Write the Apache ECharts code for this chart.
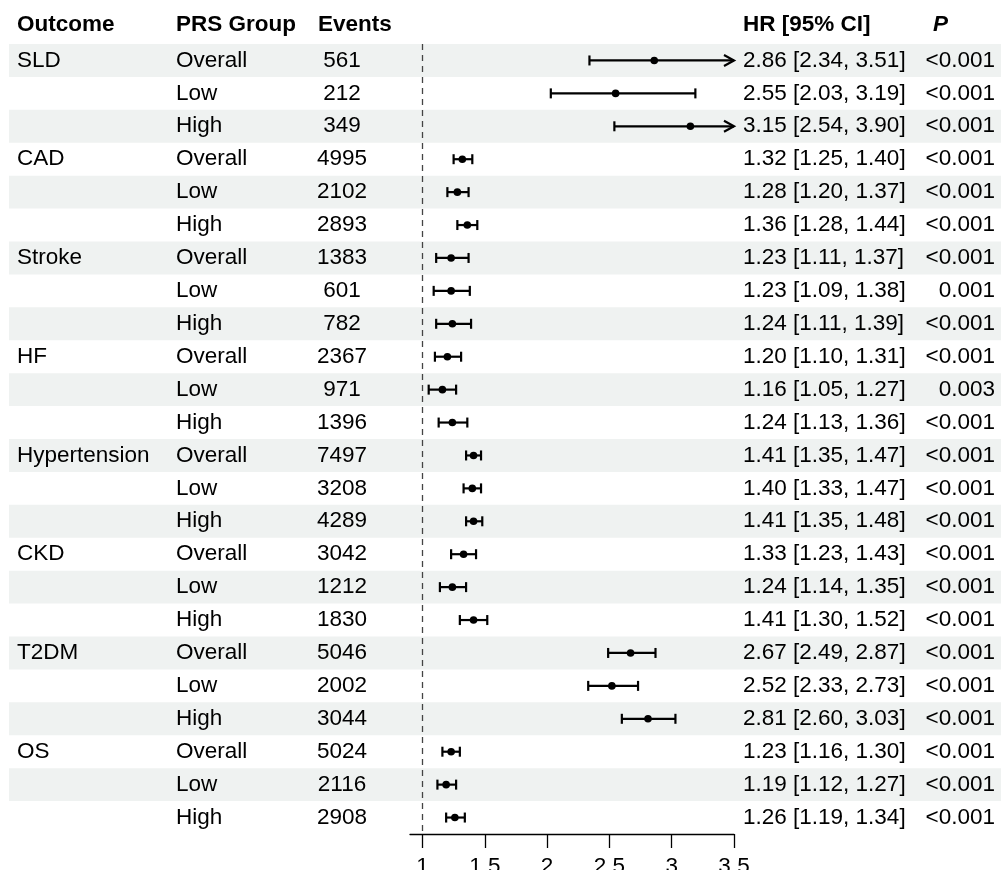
<!DOCTYPE html>
<html>
<head>
<meta charset="utf-8">
<script src="https://cdn.jsdelivr.net/npm/echarts@6/dist/echarts.min.js"></script>
<style>
  html, body { margin: 0; padding: 0; background: #fff; }
  #forest { width: 1001px; height: 870px; }
</style>
</head>
<body>
<div id="forest"></div>
<script>
// data
const outcomes = ['SLD', 'CAD', 'Stroke', 'HF', 'Hypertension', 'CKD', 'T2DM', 'OS']
const groups = ['Overall', 'Low', 'High']
const events = [561, 212, 349, 4995, 2102, 2893, 1383, 601, 782, 2367, 971, 1396,
  7497, 3208, 4289, 3042, 1212, 1830, 5046, 2002, 3044, 5024, 2116, 2908]
const hr = [2.86, 2.55, 3.15, 1.32, 1.28, 1.36, 1.23, 1.23, 1.24, 1.20, 1.16, 1.24,
  1.41, 1.40, 1.41, 1.33, 1.24, 1.41, 2.67, 2.52, 2.81, 1.23, 1.19, 1.26]
const lower = [2.34, 2.03, 2.54, 1.25, 1.20, 1.28, 1.11, 1.09, 1.11, 1.10, 1.05, 1.13,
  1.35, 1.33, 1.35, 1.23, 1.14, 1.30, 2.49, 2.33, 2.60, 1.16, 1.12, 1.19]
const upper = [3.51, 3.19, 3.90, 1.40, 1.37, 1.44, 1.37, 1.38, 1.39, 1.31, 1.27, 1.36,
  1.47, 1.47, 1.48, 1.43, 1.35, 1.52, 2.87, 2.73, 3.03, 1.30, 1.27, 1.34]
const pValues = ['<0.001', '<0.001', '<0.001', '<0.001', '<0.001', '<0.001',
  '<0.001', '0.001', '<0.001', '<0.001', '0.003', '<0.001',
  '<0.001', '<0.001', '<0.001', '<0.001', '<0.001', '<0.001',
  '<0.001', '<0.001', '<0.001', '<0.001', '<0.001', '<0.001']
const xTicks = [1, 1.5, 2, 2.5, 3, 3.5]
const xMin = 0.9, xMax = 3.5

const FONT = '"Liberation Sans", Arial, Helvetica, sans-serif'
const FS = 22.5

const rows = events.map((e, i) => String(i))
const tableData = events.map((e, i) => [xMin, i])
const ciData = events.map((e, i) => [i, lower[i], hr[i], upper[i]])

function txt(x, y, text, align, weight, style) {
  return {
    type: 'text',
    style: {
      x: x, y: y, text: text,
      fill: '#000',
      font: (style || 'normal') + ' ' + (weight || 'normal') + ' ' + FS + 'px ' + FONT,
      textAlign: align || 'left',
      textVerticalAlign: 'middle'
    }
  }
}

const chart = echarts.init(document.getElementById('forest'), null, {renderer: 'canvas'})

let option = {
  animation: false,
  backgroundColor: '#fff',
  grid: {
    left: 410,
    right: 267,
    top: 44,
    bottom: 36,
    outerBoundsMode: 'none'
  },
  xAxis: {
    type: 'value',
    min: xMin,
    max: xMax,
    splitLine: {show: false},
    axisLine: {
      show: true,
      lineStyle: {color: '#000', width: 1.3}
    },
    axisTick: {
      show: true,
      length: 14,
      customValues: xTicks,
      lineStyle: {color: '#000', width: 1.3}
    },
    axisLabel: {
      customValues: xTicks,
      color: '#000',
      fontSize: FS,
      fontFamily: FONT,
      margin: 21,
      formatter: v => String(v)
    }
  },
  yAxis: {
    type: 'category',
    data: rows,
    inverse: true,
    show: false
  },
  graphic: [
    txt(17, 25, 'Outcome', 'left', 'bold'),
    txt(176, 25, 'PRS Group', 'left', 'bold'),
    txt(318, 25, 'Events', 'left', 'bold'),
    txt(743, 25, 'HR [95% CI]', 'left', 'bold'),
    txt(933, 25, 'P', 'left', 'bold', 'italic')
  ],
  series: [
    {
      // stripes + table columns
      name: 'table',
      type: 'custom',
      z: 1,
      silent: true,
      clip: false,
      encode: {x: 0, y: 1},
      data: tableData,
      renderItem: function (params, api) {
        const i = api.value(1)
        const y = api.coord([xMin, i])[1]
        const h = api.size([0, 1])[1]
        const kids = []
        if (i % 2 === 0) {
          kids.push({
            type: 'rect',
            shape: {x: 9, y: y - h / 2, width: 992, height: h},
            style: {fill: '#eff2f1'}
          })
        }
        const k = i % 3
        kids.push(txt(17, y, k === 0 ? outcomes[Math.floor(i / 3)] : ''))
        kids.push(txt(176, y, groups[k]))
        kids.push(txt(342, y, String(events[i]), 'center'))
        kids.push(txt(743, y, hr[i].toFixed(2) + ' [' + lower[i].toFixed(2) + ', ' + upper[i].toFixed(2) + ']'))
        kids.push(txt(995, y, pValues[i], 'right'))
        return {type: 'group', children: kids}
      }
    },
    {
      // point estimate + CI
      name: 'HR',
      type: 'custom',
      z: 3,
      clip: false,
      encode: {x: [1, 2, 3], y: 0},
      data: ciData,
      renderItem: function (params, api) {
        const row = api.value(0)
        const lo = api.value(1), mid = api.value(2), hi = api.value(3)
        const a = api.coord([lo, row])
        const m = api.coord([mid, row])
        const b = api.coord([Math.min(hi, xMax), row])
        const st = {stroke: '#000', lineWidth: 2.2}
        const kids = [
          {type: 'line', shape: {x1: a[0], y1: a[1], x2: b[0], y2: b[1]}, style: st},
          {type: 'line', shape: {x1: a[0], y1: a[1] - 5, x2: a[0], y2: a[1] + 5}, style: st}
        ]
        if (hi > xMax) {
          // CI runs past the axis, draw an arrow
          kids.push({
            type: 'polyline',
            shape: {points: [[b[0] - 10, b[1] - 5.5], [b[0], b[1]], [b[0] - 10, b[1] + 5.5]]},
            style: {stroke: '#000', lineWidth: 2.2, fill: null}
          })
        } else {
          kids.push({type: 'line', shape: {x1: b[0], y1: b[1] - 5, x2: b[0], y2: b[1] + 5}, style: st})
        }
        kids.push({type: 'circle', shape: {cx: m[0], cy: m[1], r: 3.8}, style: {fill: '#000'}})
        return {type: 'group', children: kids}
      },
      markLine: {
        silent: true,
        symbol: 'none',
        label: {show: false},
        lineStyle: {color: '#444', type: [6, 5], width: 1.3},
        data: [{xAxis: 1}]
      }
    }
  ]
}

chart.setOption(option)
</script>
</body>
</html>
